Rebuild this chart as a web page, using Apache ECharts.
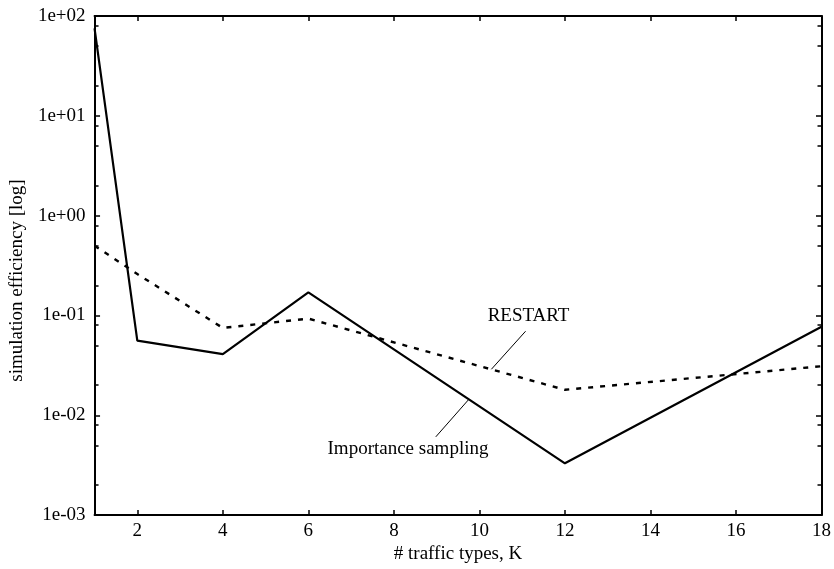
<!DOCTYPE html>
<html>
<head>
<meta charset="utf-8">
<script src="https://cdn.jsdelivr.net/npm/echarts@6/dist/echarts.min.js"></script>
<style>
  html, body { margin: 0; padding: 0; background: #fff; }
  #chart { width: 834px; height: 569px; }
</style>
</head>
<body>
<div id="chart"></div>
<script>
// Number of traffic types K at which both methods were evaluated
const kValues = [1, 2, 4, 6, 12, 18];
// Simulation efficiency per method
const importanceSampling = [75, 0.056, 0.041, 0.17, 0.0033, 0.077];
const restart = [0.5, 0.26, 0.075, 0.093, 0.018, 0.031];

// Axis ticks
const xTickValues = [2, 4, 6, 8, 10, 12, 14, 16, 18];
const yTickValues = [0.001, 0.01, 0.1, 1, 10, 100];
const yTickLabels = ['1e-03', '1e-02', '1e-01', '1e+00', '1e+01', '1e+02'];
const yMinorTickValues = [
  0.002, 0.005, 0.008,
  0.02, 0.05, 0.08,
  0.2, 0.5, 0.8,
  2, 5, 8,
  20, 50, 80
];

// Callout annotations: text anchor, pointer start, pointer end (data coordinates)
const restartNote = { text: 'RESTART', at: [11.15, 0.0986], from: [11.08, 0.0695], to: [10.28, 0.0289] };
const isNote = { text: 'Importance sampling', at: [8.33, 0.00462], from: [8.98, 0.00608], to: [9.75, 0.0144] };

const FONT = 'Liberation Serif, Times New Roman, serif';
const FS = 19;
const BLACK = '#000';

const chart = echarts.init(document.getElementById('chart'), null, { renderer: 'canvas' });

function pairs(xs, ys) { return xs.map((x, i) => [x, ys[i]]); }

function yAxisDef(position, minor, showLabels) {
  return {
    type: 'log',
    logBase: 10,
    min: 0.001,
    max: 100,
    position: position,
    axisLine: { show: !minor, lineStyle: { color: BLACK, width: 2 } },
    axisTick: {
      show: true,
      inside: true,
      length: minor ? 4 : 5.5,
      lineStyle: { color: BLACK, width: 1.5 },
      customValues: minor ? yMinorTickValues : yTickValues
    },
    axisLabel: {
      show: showLabels,
      customValues: yTickValues,
      formatter: v => {
        const i = yTickValues.findIndex(t => Math.abs(Math.log10(t) - Math.log10(v)) < 1e-6);
        return i >= 0 ? yTickLabels[i] : '';
      },
      color: BLACK,
      fontFamily: FONT,
      fontSize: FS,
      margin: 9
    },
    splitLine: { show: false },
    minorTick: { show: false },
    name: showLabels ? 'simulation efficiency [log]' : '',
    nameLocation: 'middle',
    nameGap: 58,
    nameTextStyle: { color: BLACK, fontFamily: FONT, fontSize: FS, padding: [0, 30, 0, 0] }
  };
}

function xAxisDef(position, showLabels) {
  return {
    type: 'value',
    min: 1,
    max: 18,
    position: position,
    axisLine: { show: true, onZero: false, lineStyle: { color: BLACK, width: 2 } },
    axisTick: {
      show: true,
      inside: true,
      length: 5,
      lineStyle: { color: BLACK, width: 1.5 },
      customValues: xTickValues
    },
    axisLabel: {
      show: showLabels,
      customValues: xTickValues,
      color: BLACK,
      fontFamily: FONT,
      fontSize: FS,
      margin: 6
    },
    splitLine: { show: false },
    name: showLabels ? '# traffic types, K' : '',
    nameLocation: 'middle',
    nameGap: 25,
    nameTextStyle: { color: BLACK, fontFamily: FONT, fontSize: FS }
  };
}

function note(n) {
  return {
    markLine: {
      silent: true,
      symbol: ['none', 'none'],
      label: { show: false },
      lineStyle: { color: BLACK, width: 1, type: 'solid' },
      data: [[{ coord: n.from }, { coord: n.to }]]
    },
    markPoint: {
      silent: true,
      symbol: 'rect',
      symbolSize: 1,
      itemStyle: { color: 'rgba(0,0,0,0)' },
      label: {
        show: true,
        position: 'inside',
        formatter: '{b}',
        color: BLACK,
        fontFamily: FONT,
        fontSize: FS
      },
      data: [{ name: n.text, coord: n.at }]
    }
  };
}

chart.setOption({
  animation: false,
  backgroundColor: '#fff',
  grid: { left: 93, right: 12.5, top: 16, bottom: 49, containLabel: false },
  xAxis: [xAxisDef('bottom', true), xAxisDef('top', false)],
  yAxis: [
    yAxisDef('left', false, true),
    yAxisDef('left', true, false),
    yAxisDef('right', false, false),
    yAxisDef('right', true, false)
  ],
  series: [
    Object.assign({
      name: 'Importance sampling',
      type: 'line',
      xAxisIndex: 0,
      yAxisIndex: 0,
      data: pairs(kValues, importanceSampling),
      showSymbol: false,
      symbol: 'none',
      lineStyle: { color: BLACK, width: 2.2, type: 'solid' },
      z: 3
    }, note(isNote)),
    Object.assign({
      name: 'RESTART',
      type: 'line',
      xAxisIndex: 0,
      yAxisIndex: 0,
      data: pairs(kValues, restart),
      showSymbol: false,
      symbol: 'none',
      lineStyle: { color: BLACK, width: 2.4, type: [5, 7] },
      z: 2
    }, note(restartNote))
  ]
});
</script>
</body>
</html>
